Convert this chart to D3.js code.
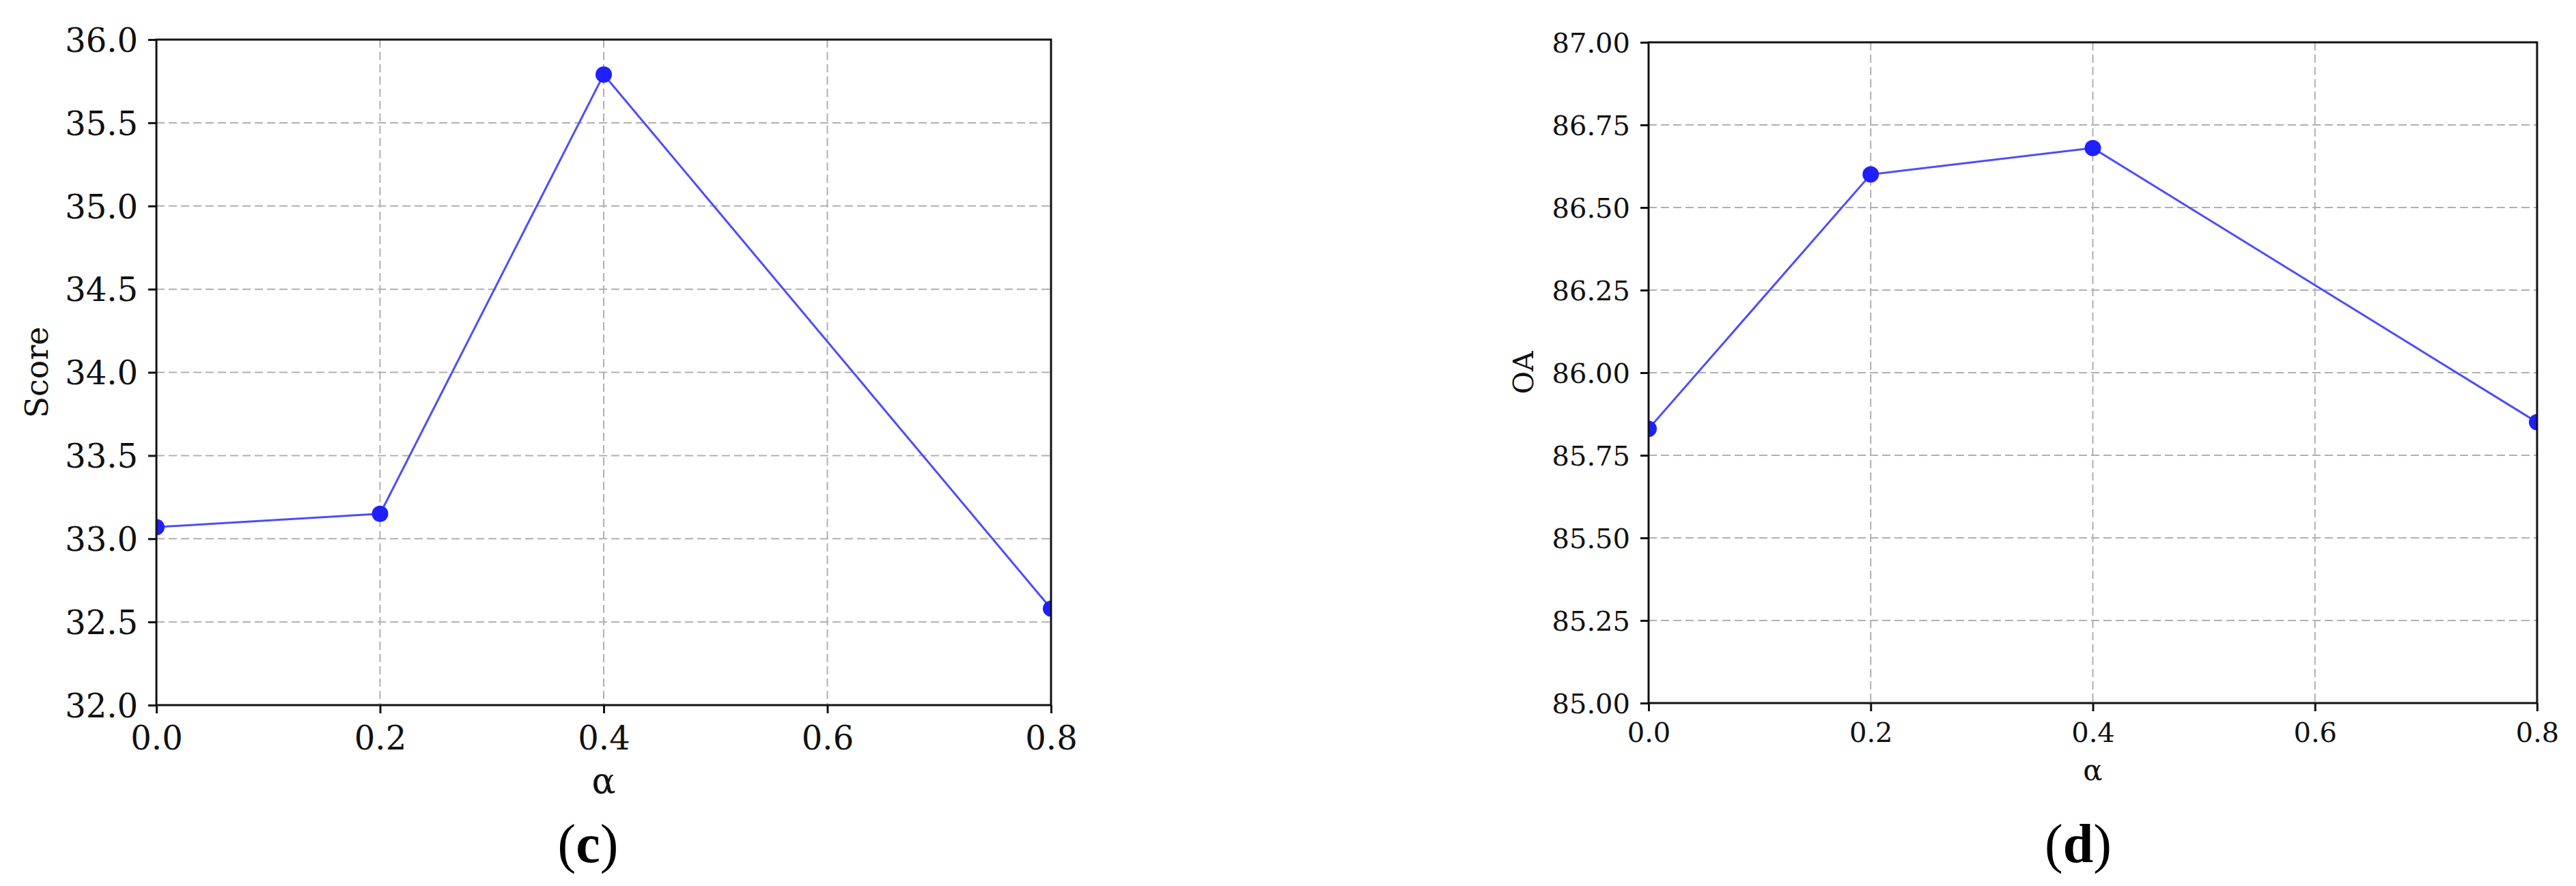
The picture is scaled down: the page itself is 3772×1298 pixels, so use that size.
<!DOCTYPE html>
<html lang="en">
	<head>
		<meta charset="utf-8">
		<title>Alpha sensitivity</title>
		<script src="https://d3js.org/d3.v7.min.js"></script>
		<style>
			body { margin: 0; background: #fff; }
			.tick text { font-family: "DejaVu Serif", serif; fill: #111; }
			.grid line { stroke: #b0b0b0; stroke-width: 2; stroke-dasharray: 12,6; }
			.axlabel { font-family: "DejaVu Serif", serif; fill: #111; }
			.panel { font-family: "Liberation Serif", serif; fill: #000; }
		</style>
	</head>

	<body>
		<div id="vis"></div>
	</body>

	<script>
		// values
		var alphaVals = [0.0, 0.2, 0.4, 0.8];
		var scoreVals = [33.07, 33.15, 35.79, 32.58];
		var oaVals = [85.83, 86.60, 86.68, 85.85];

		var xTicks = [0.0, 0.2, 0.4, 0.6, 0.8];
		var scoreTicks = [32.0, 32.5, 33.0, 33.5, 34.0, 34.5, 35.0, 35.5, 36.0];
		var oaTicks = [85.00, 85.25, 85.50, 85.75, 86.00, 86.25, 86.50, 86.75, 87.00];

		var width = 3772, height = 1298;

		var svg = d3.select("#vis").append("svg")
			.attr("width", width)
			.attr("height", height);

		svg.append("rect").attr("width", width).attr("height", height).attr("fill", "#fff");

		function drawPanel(cfg) {
			var w = cfg.right - cfg.left;
			var h = cfg.bottom - cfg.top;

			var x = d3.scaleLinear().domain([0, 0.8]).range([0, w]);
			var y = d3.scaleLinear().domain(cfg.yDomain).range([h, 0]);

			var g = svg.append("g")
				.attr("transform", "translate(" + cfg.left + "," + cfg.top + ")");

			// grid
			g.append("g").attr("class", "grid")
				.selectAll("line").data(cfg.yTicks).enter().append("line")
				.attr("x1", 0).attr("x2", w)
				.attr("y1", function(d){ return y(d); })
				.attr("y2", function(d){ return y(d); });
			g.append("g").attr("class", "grid")
				.selectAll("line").data(xTicks).enter().append("line")
				.attr("y1", 0).attr("y2", h)
				.attr("x1", function(d){ return x(d); })
				.attr("x2", function(d){ return x(d); });

			var yAxis = d3.axisLeft(y).tickValues(cfg.yTicks).tickFormat(d3.format(cfg.yFmt))
				.tickSize(12).tickPadding(15);
			var xAxis = d3.axisBottom(x).tickValues(xTicks).tickFormat(d3.format(".1f"))
				.tickSize(12).tickPadding(cfg.xPad);

			var ya = g.append("g").call(yAxis);
			var xa = g.append("g").attr("transform", "translate(0," + h + ")").call(xAxis);
			[ya, xa].forEach(function(a){
				a.select(".domain").remove();
				a.selectAll(".tick line").attr("stroke", "#111").attr("stroke-width", 3);
				a.selectAll("text").style("font-size", cfg.tickFont + "px");
			});
			ya.selectAll("text").attr("dy", "0.36em");

			// line + markers, clipped to the plot box
			var clipId = "clip-" + cfg.id;
			g.append("clipPath").attr("id", clipId)
				.append("rect").attr("width", w).attr("height", h);

			var pts = alphaVals.map(function(a, i){ return {a: a, v: cfg.values[i]}; });
			var line = d3.line()
				.x(function(d){ return x(d.a); })
				.y(function(d){ return y(d.v); });

			var plot = g.append("g").attr("clip-path", "url(#" + clipId + ")");
			plot.append("path")
				.attr("d", line(pts))
				.attr("fill", "none")
				.attr("stroke", "#4d4dff")
				.attr("stroke-width", 3);
			plot.selectAll("circle").data(pts).enter().append("circle")
				.attr("cx", function(d){ return x(d.a); })
				.attr("cy", function(d){ return y(d.v); })
				.attr("r", 12)
				.attr("fill", "#1f1fff");

			// frame
			g.append("rect")
				.attr("width", w).attr("height", h)
				.attr("fill", "none")
				.attr("stroke", "#111")
				.attr("stroke-width", 3);

			// axis labels
			g.append("text").attr("class", "axlabel")
				.attr("x", w / 2).attr("y", h + cfg.alphaY)
				.attr("text-anchor", "middle")
				.style("font-size", cfg.alphaFont + "px")
				.text("α");
			svg.append("text").attr("class", "axlabel")
				.attr("transform", "translate(" + cfg.yLabelX + "," + (cfg.top + h / 2) + ") rotate(-90)")
				.attr("text-anchor", "middle")
				.style("font-size", cfg.yLabelFont + "px")
				.text(cfg.yLabel);

			// panel letter
			var p = svg.append("text").attr("class", "panel")
				.attr("x", cfg.panelX).attr("y", 1263)
				.attr("text-anchor", "middle")
				.style("font-size", "80px");
			p.append("tspan").text("(");
			p.append("tspan").attr("font-weight", "bold").text(cfg.panel);
			p.append("tspan").text(")");
		}

		drawPanel({
			id: "c", left: 229, right: 1539, top: 58, bottom: 1033,
			yDomain: [32, 36], yTicks: scoreTicks, yFmt: ".1f", values: scoreVals,
			tickFont: 48, xPad: 19, alphaY: 129, alphaFont: 52,
			yLabel: "Score", yLabelX: 70, yLabelFont: 46,
			panel: "c", panelX: 861
		});

		drawPanel({
			id: "d", left: 2414, right: 3715, top: 62, bottom: 1030,
			yDomain: [85, 87], yTicks: oaTicks, yFmt: ".2f", values: oaVals,
			tickFont: 40, xPad: 17, alphaY: 113, alphaFont: 42,
			yLabel: "OA", yLabelX: 2245, yLabelFont: 41,
			panel: "d", panelX: 3043
		});
	</script>
</html>
